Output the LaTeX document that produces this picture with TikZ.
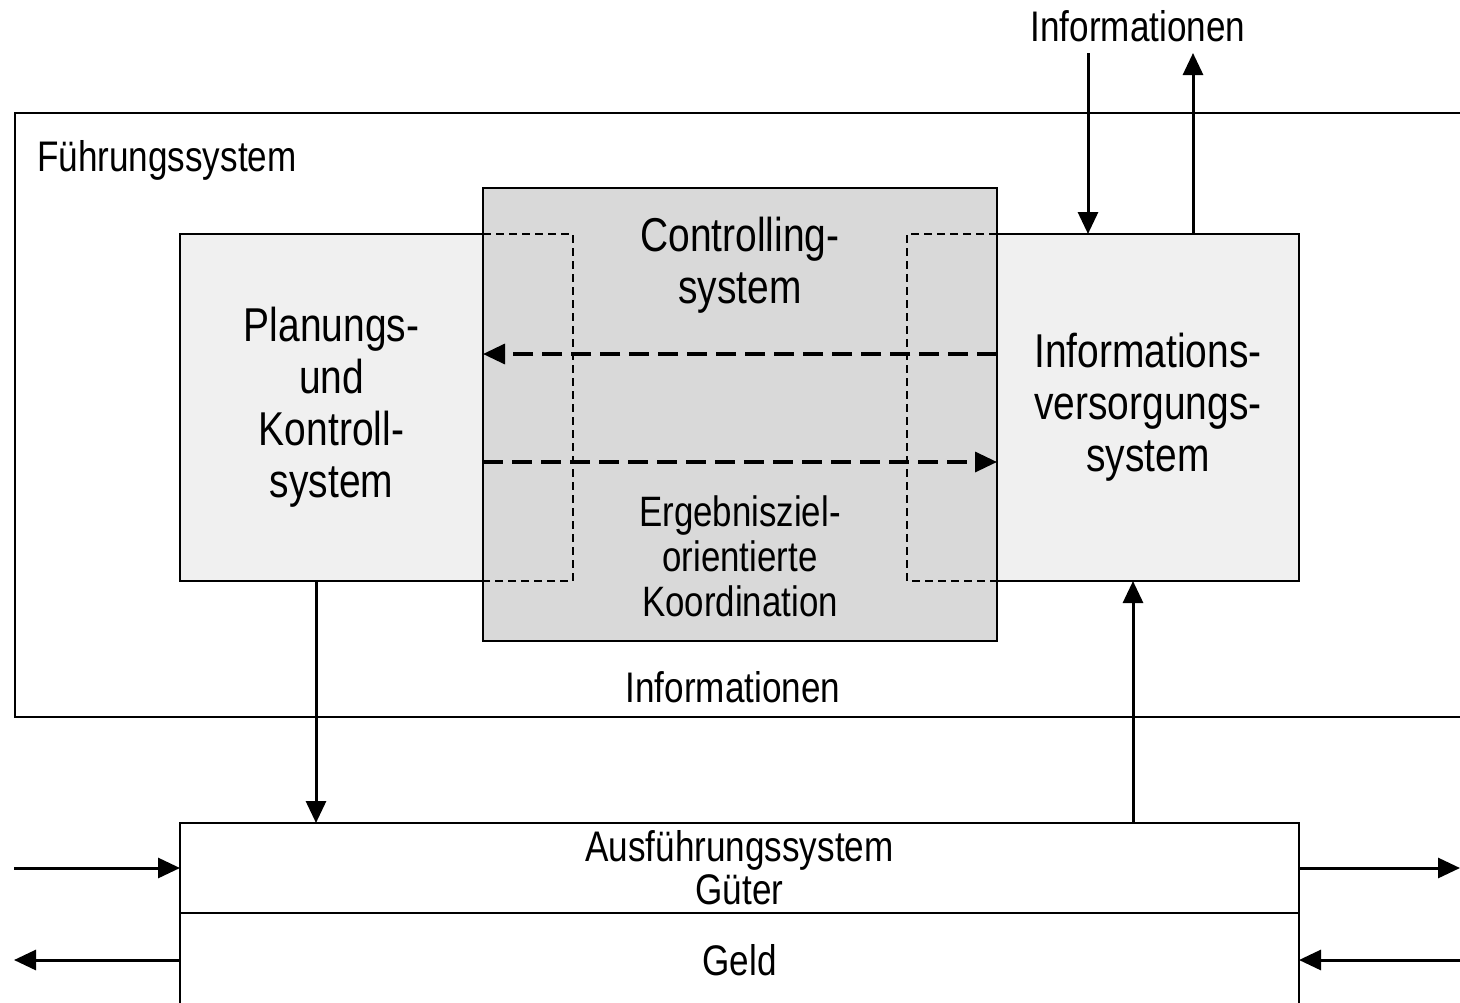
\documentclass[tikz,border=0pt]{standalone}
\usepackage{fontspec}
\setmainfont{Liberation Sans}[FakeStretch=0.82]
\usetikzlibrary{arrows.meta,positioning,calc}
\definecolor{ink}{RGB}{0,0,0}
\definecolor{paneL}{RGB}{240,240,240}
\definecolor{paneC}{RGB}{217,217,217}
\newcommand{\bigtxt}{\fontsize{47.5}{52}\selectfont}
\newcommand{\midtxt}{\fontsize{42.8}{43}\selectfont}
\newcommand{\smtxt}{\fontsize{42.5}{45}\selectfont}
\tikzset{
  frame/.style={draw=ink,line width=2.4pt,fill=white,inner sep=0pt,outer sep=0pt},
  pane/.style={draw=ink,line width=2.4pt,fill=paneL,inner sep=0pt,outer sep=0pt,
    align=center,font=\bigtxt},
  band/.style={draw=ink,line width=2.4pt,fill=white,inner sep=0pt,outer sep=0pt,
    align=center,font=\midtxt,minimum width=1119pt},
  lab/.style={inner sep=0pt,align=center},
  arr/.style={-{Triangle[length=22pt,width=20pt]},line width=3pt,ink},
  dasharr/.style={-{Triangle[length=22pt,width=20pt]},line width=3.4pt,ink,
    dash pattern=on 20pt off 9pt},
  dashline/.style={line width=1.8pt,ink,dash pattern=on 8pt off 5pt},
}

\begin{document}
\begin{tikzpicture}[x=1pt,y=-1pt]
\useasboundingbox (0,0) rectangle (1460,1002);
\clip (0,0) rectangle (1460,1002);
% outer frame, open to the right
\node[frame,anchor=north west,minimum width=1500pt,minimum height=604pt] (fs) at (15,113) {};
\node[lab,anchor=west,font=\midtxt] (fslab) at (37,160) {Führungssystem};
\node[lab,font=\midtxt] (infobot) at (733,687) {Informationen};
\node[lab,font=\midtxt] (infotop) at (1138,26) {Informationen};

\node[pane,anchor=north west,minimum width=303pt,minimum height=347pt] (plan) at (180,234)
  {Planungs-\\und\\Kontroll-\\system};
\node[pane,anchor=north west,minimum width=302pt,minimum height=347pt] (info) at (997,234)
  {Informations-\\versorgungs-\\system};
\node[pane,fill=paneC,anchor=north west,minimum width=514pt,minimum height=453pt] (ctrl) at (483,188) {};
\node[lab,font=\bigtxt] (ctrltop) at (740,265) {Controlling-\\system};
\node[lab,font=\smtxt] (ctrlbot) at (740,556) {Ergebnisziel-\\orientierte\\Koordination};

% overlaps of the side systems
\draw[dashline] (plan.north east) -- ++(90,0) |- (plan.south east);
\draw[dashline] (info.north west) -- ++(-90,0) |- (info.south west);
\draw[dasharr] (info.west |- 0,354) -- (plan.east |- 0,354);
\draw[dasharr] (plan.east |- 0,462) -- (info.west |- 0,462);

\node[band,anchor=north west,minimum height=90pt] (exec) at (180,823) {Ausführungssystem\\Güter};
\node[band,below=0pt of exec,minimum height=94pt] (geld) {Geld};

\coordinate (in1) at (1088,53);
\coordinate (out1) at (1193,53);
\draw[arr] (in1) -- (in1 |- info.north);
\draw[arr] (out1 |- info.north) -- (out1);
\draw[arr] (plan.south -| 316,0) -- (exec.north -| 316,0);
\draw[arr] (exec.north -| 1133,0) -- (info.south -| 1133,0);

\coordinate (lin) at (14,868);
\coordinate (lout) at (14,960);
\coordinate (rout) at (1460,868);
\coordinate (rin) at (1460,960);
\draw[arr] (lin) -- (exec.west);
\draw[arr] (geld.west) -- (lout);
\draw[arr] (exec.east) -- (rout);
\draw[arr] (rin) -- (geld.east);
\end{tikzpicture}
\end{document}
